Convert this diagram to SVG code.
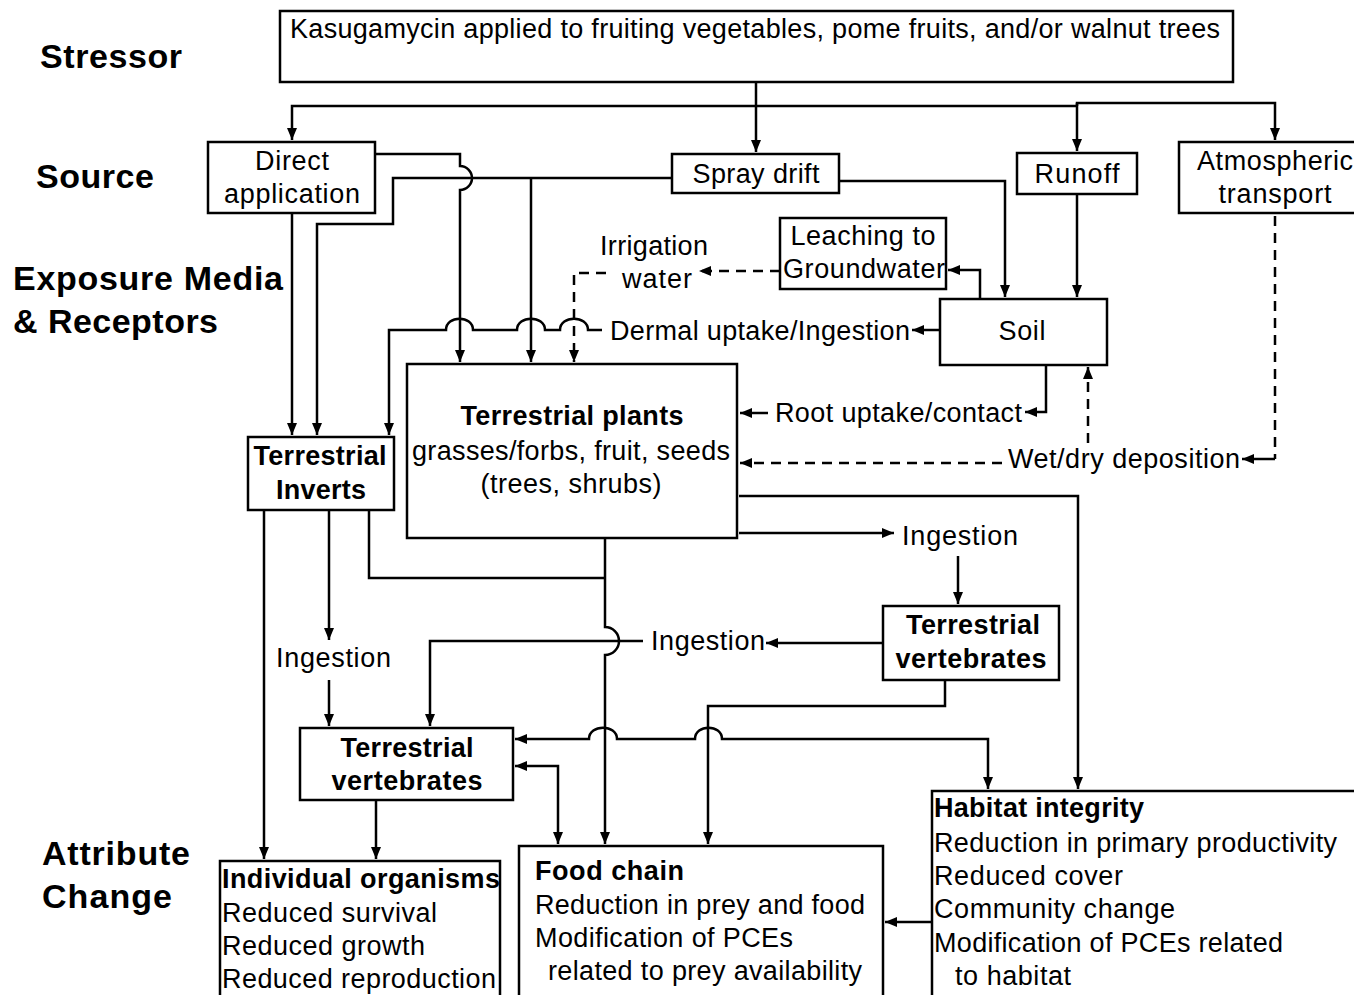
<svg xmlns="http://www.w3.org/2000/svg" width="1354" height="995" viewBox="0 0 1354 995">
<style>
  .box { fill: #fff; stroke: #000; stroke-width: 2.5; }
  .ln { fill: none; stroke: #000; stroke-width: 2.5; }
  .dash { fill: none; stroke: #000; stroke-width: 2.5; stroke-dasharray: 10 7; }
  .t { font-family: "Liberation Sans", Arial, sans-serif; font-size: 27px; fill: #000; }
  .b { font-family: "Liberation Sans", Arial, sans-serif; font-size: 27px; font-weight: bold; fill: #000; }
  .h { font-family: "Liberation Sans", Arial, sans-serif; font-size: 34px; font-weight: bold; fill: #000; }
  .m { text-anchor: middle; }
</style>
<defs>
  <marker id="ar" markerUnits="userSpaceOnUse" markerWidth="13" markerHeight="11" refX="12" refY="5.5" orient="auto-start-reverse">
    <path d="M0,0.5 L12,5.5 L0,10.5 z" fill="#000"/>
  </marker>
</defs>

<!-- Row labels -->
<g id="labels">
  <text class="h" x="40" y="68" textLength="142">Stressor</text>
  <text class="h" x="36" y="188" textLength="118">Source</text>
  <text class="h" x="13" y="290" textLength="270">Exposure Media</text>
  <text class="h" x="13" y="333" textLength="205">&amp; Receptors</text>
  <text class="h" x="42" y="865" textLength="148">Attribute</text>
  <text class="h" x="42" y="908" textLength="130">Change</text>
</g>

<!-- Connectors -->
<g id="connectors">
  <!-- stressor to sources -->
  <path class="ln" d="M756,82 V106"/>
  <path class="ln" d="M1077,106 H292 V140" marker-end="url(#ar)"/>
  <path class="ln" d="M756,106 V152" marker-end="url(#ar)"/>
  <path class="ln" d="M1077,106 V103 H1275 V140" marker-end="url(#ar)"/>
  <path class="ln" d="M1077,103 V151" marker-end="url(#ar)"/>

  <!-- direct application -->
  <path class="ln" d="M292,213 V435" marker-end="url(#ar)"/>
  <path class="ln" d="M375,154 H460 V166 A12,12 0 0 1 460,190 V362" marker-end="url(#ar)"/>

  <!-- spray drift -->
  <path class="ln" d="M672,178 H393 V224 H317 V435" marker-end="url(#ar)"/>
  <path class="ln" d="M531,178 V362" marker-end="url(#ar)"/>
  <path class="ln" d="M839,181 H1005 V297" marker-end="url(#ar)"/>

  <!-- runoff -->
  <path class="ln" d="M1077,194 V297" marker-end="url(#ar)"/>

  <!-- soil to leaching -->
  <path class="ln" d="M980,299 V270 H948" marker-end="url(#ar)"/>
  <!-- leaching to irrigation water -->
  <path class="dash" d="M780,271 H699" marker-end="url(#ar)"/>
  <path class="dash" d="M606,273 H574 V362" marker-end="url(#ar)"/>

  <!-- soil dermal uptake -->
  <path class="ln" d="M940,330 H912" marker-end="url(#ar)"/>
  <path class="ln" d="M602,330 H588 C588,315 560,315 560,330 H545 C545,315 517,315 517,330 H473 C473,315 446,315 446,330 H389 V435" marker-end="url(#ar)"/>

  <!-- root uptake -->
  <path class="ln" d="M1046,365 V412 H1025" marker-end="url(#ar)"/>
  <path class="ln" d="M768,413 H740" marker-end="url(#ar)"/>

  <!-- atmospheric -->
  <path class="dash" d="M1275,216 V459"/>
  <path class="ln" d="M1275,459 H1242" marker-end="url(#ar)"/>
  <path class="dash" d="M1088,443 V367" marker-end="url(#ar)"/>
  <path class="dash" d="M1002,463 H740" marker-end="url(#ar)"/>

  <!-- plants to habitat -->
  <path class="ln" d="M739,496 H1078 V789" marker-end="url(#ar)"/>
  <!-- plants to ingestion -->
  <path class="ln" d="M739,533 H894" marker-end="url(#ar)"/>
  <path class="ln" d="M958,556 V604" marker-end="url(#ar)"/>

  <!-- right vertebrates -->
  <path class="ln" d="M883,643 H766" marker-end="url(#ar)"/>
  <path class="ln" d="M643,641 H430 V726" marker-end="url(#ar)"/>
  <path class="ln" d="M945,680 V706 H708 V844" marker-end="url(#ar)"/>

  <!-- plants bottom -->
  <path class="ln" d="M605,538 V627 A14,14 0 0 1 605,655 V844" marker-end="url(#ar)"/>

  <!-- inverts bottom -->
  <path class="ln" d="M264,510 V859" marker-end="url(#ar)"/>
  <path class="ln" d="M329,510 V640" marker-end="url(#ar)"/>
  <path class="ln" d="M329,680 V726" marker-end="url(#ar)"/>
  <path class="ln" d="M369,510 V578 H605"/>

  <!-- left vertebrates -->
  <path class="ln" d="M376,800 V859" marker-end="url(#ar)"/>
  <path class="ln" d="M515,739 H589 C589,724 617,724 617,739 H695 C695,724 722,724 722,739 H988 V789" marker-start="url(#ar)" marker-end="url(#ar)"/>
  <path class="ln" d="M515,766 H558 V844" marker-start="url(#ar)" marker-end="url(#ar)"/>

  <!-- habitat to food chain -->
  <path class="ln" d="M932,922 H885" marker-end="url(#ar)"/>

  <!-- connector labels -->
  <text class="t m" x="654" y="255" textLength="108">Irrigation</text>
  <text class="t m" x="657" y="288" textLength="70">water</text>
  <text class="t" x="610" y="340" textLength="300">Dermal uptake/Ingestion</text>
  <text class="t" x="775" y="422" textLength="247">Root uptake/contact</text>
  <text class="t" x="1008" y="468" textLength="232">Wet/dry deposition</text>
  <text class="t" x="902" y="545" textLength="116">Ingestion</text>
  <text class="t" x="651" y="650" textLength="114">Ingestion</text>
  <text class="t" x="276" y="667" textLength="115">Ingestion</text>
</g>

<!-- Nodes -->
<g id="stressor">
  <rect class="box" x="280" y="11" width="953" height="71"/>
  <text class="t" x="290" y="38" textLength="930">Kasugamycin applied to fruiting vegetables, pome fruits, and/or walnut trees</text>
</g>
<g id="direct-application">
  <rect class="box" x="208" y="142" width="167" height="71"/>
  <text class="t m" x="292" y="170" textLength="74">Direct</text>
  <text class="t m" x="292" y="203" textLength="136">application</text>
</g>
<g id="spray-drift">
  <rect class="box" x="672" y="154" width="167" height="39"/>
  <text class="t m" x="756" y="183" textLength="127">Spray drift</text>
</g>
<g id="runoff">
  <rect class="box" x="1017" y="153" width="120" height="41"/>
  <text class="t m" x="1077" y="183" textLength="85">Runoff</text>
</g>
<g id="atmospheric-transport">
  <rect class="box" x="1179" y="142" width="180" height="71"/>
  <text class="t m" x="1275" y="170" textLength="156">Atmospheric</text>
  <text class="t m" x="1275" y="203" textLength="113">transport</text>
</g>
<g id="leaching">
  <rect class="box" x="780" y="218" width="166" height="71"/>
  <text class="t m" x="863" y="245" textLength="145">Leaching to</text>
  <text class="t m" x="864" y="278" textLength="162">Groundwater</text>
</g>
<g id="soil">
  <rect class="box" x="940" y="299" width="167" height="66"/>
  <text class="t m" x="1022" y="340" textLength="47">Soil</text>
</g>
<g id="terrestrial-plants">
  <rect class="box" x="407" y="364" width="330" height="174"/>
  <text class="b m" x="572" y="425" textLength="223">Terrestrial plants</text>
  <text class="t m" x="571" y="460" textLength="318">grasses/forbs, fruit, seeds</text>
  <text class="t m" x="571" y="493" textLength="181">(trees, shrubs)</text>
</g>
<g id="terrestrial-inverts">
  <rect class="box" x="248" y="437" width="146" height="73"/>
  <text class="b m" x="320" y="465" textLength="133">Terrestrial</text>
  <text class="b m" x="321" y="499" textLength="90">Inverts</text>
</g>
<g id="terrestrial-vertebrates-right">
  <rect class="box" x="883" y="606" width="176" height="74"/>
  <text class="b m" x="973" y="634" textLength="134">Terrestrial</text>
  <text class="b m" x="971" y="668" textLength="151">vertebrates</text>
</g>
<g id="terrestrial-vertebrates-left">
  <rect class="box" x="300" y="728" width="213" height="72"/>
  <text class="b m" x="407" y="757" textLength="133">Terrestrial</text>
  <text class="b m" x="407" y="790" textLength="151">vertebrates</text>
</g>
<g id="individual-organisms">
  <rect class="box" x="220" y="861" width="280" height="150"/>
  <text class="b" x="222" y="888" textLength="278">Individual organisms</text>
  <text class="t" x="222" y="922" textLength="215">Reduced survival</text>
  <text class="t" x="222" y="955" textLength="203">Reduced growth</text>
  <text class="t" x="222" y="988" textLength="274">Reduced reproduction</text>
</g>
<g id="food-chain">
  <rect class="box" x="519" y="846" width="364" height="165"/>
  <text class="b" x="535" y="880" textLength="149">Food chain</text>
  <text class="t" x="535" y="914" textLength="330">Reduction in prey and food</text>
  <text class="t" x="535" y="947" textLength="258">Modification of PCEs</text>
  <text class="t" x="548" y="980" textLength="314">related to prey availability</text>
</g>
<g id="habitat-integrity">
  <rect class="box" x="932" y="791" width="440" height="220"/>
  <text class="b" x="934" y="817" textLength="210">Habitat integrity</text>
  <text class="t" x="934" y="852" textLength="403">Reduction in primary productivity</text>
  <text class="t" x="934" y="885" textLength="189">Reduced cover</text>
  <text class="t" x="934" y="918" textLength="241">Community change</text>
  <text class="t" x="934" y="952" textLength="349">Modification of PCEs related</text>
  <text class="t" x="955" y="985" textLength="116">to habitat</text>
</g>
</svg>
